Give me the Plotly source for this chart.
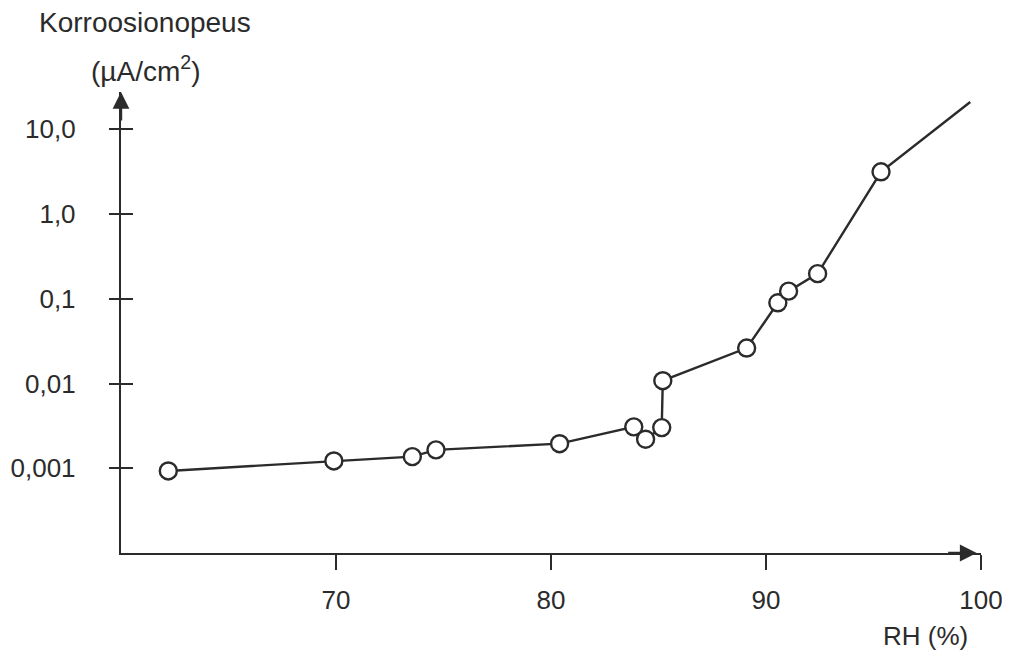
import plotly.graph_objects as go

# Measured points (RH %, corrosion rate µA/cm²)
rh = [62.2, 69.9, 73.55, 74.65, 80.4, 83.85, 84.4, 85.15, 85.2, 89.1, 90.55, 91.05, 92.4, 95.35]
rate = [0.00093, 0.00122, 0.00137, 0.00165, 0.00195, 0.00308, 0.0022, 0.00302, 0.0108, 0.0262, 0.0897, 0.123, 0.198, 3.15]
# Extension of the curve beyond the last point (no marker)
rh_end = [99.5]
rate_end = [21.0]

x_ticks = [70, 80, 90, 100]
x_tick_text = ["70", "80", "90", "100"]
y_ticks = [0.001, 0.01, 0.1, 1, 10]
y_tick_text = ["0,001", "0,01", "0,1", "1,0", "10,0"]

ink = "#2b2b2b"
font = "Liberation Sans, Arial, sans-serif"
fs = 26
fs_title = 28

fig = go.Figure()
fig.add_trace(go.Scatter(x=rh + rh_end, y=rate + rate_end, mode="lines",
                         line=dict(color=ink, width=2.4), hoverinfo="skip", showlegend=False))
fig.add_trace(go.Scatter(x=rh, y=rate, mode="markers", yaxis="y2",
                         marker=dict(symbol="circle", size=17, color="white",
                                     line=dict(color=ink, width=2.4)),
                         showlegend=False))

yr = [-4.0, 1.44]
fig.update_layout(
    width=1002, height=649,
    margin=dict(l=113, r=29, t=84, b=104, autoexpand=False),
    paper_bgcolor="white", plot_bgcolor="white",
    font=dict(family=font, color=ink, size=fs),
    xaxis=dict(range=[60, 100], tickvals=x_ticks, ticktext=x_tick_text, automargin=False,
               showgrid=False, zeroline=False, showline=True, linecolor=ink, linewidth=2.4,
               ticks="outside", ticklen=15, tickwidth=2, tickcolor=ink,
               ticklabeloverflow="allow", ticklabelstandoff=8, tickfont=dict(size=fs)),
    yaxis=dict(type="log", range=yr, tickvals=y_ticks, ticktext=y_tick_text, automargin=False,
               showgrid=False, zeroline=False, showline=True, linecolor=ink, linewidth=2.4,
               ticks="outside", ticklen=10, tickwidth=2, tickcolor=ink,
               ticklabeloverflow="allow", ticklabelstandoff=28, tickfont=dict(size=fs)),
    yaxis2=dict(type="log", range=yr, overlaying="y", tickvals=y_ticks, showticklabels=False,
                automargin=False, showgrid=False, zeroline=False, showline=False,
                ticks="inside", ticklen=12, tickwidth=2, tickcolor=ink),
    annotations=[
        dict(text="Korroosionopeus", xref="paper", yref="paper", x=0.028, y=1, yshift=70,
             showarrow=False, font=dict(size=fs_title), xanchor="center", yanchor="middle"),
        dict(text="(µA/cm<sup>2</sup>)", xref="paper", yref="paper", x=0.028, y=1, yshift=23,
             showarrow=False, font=dict(size=fs_title), xanchor="center", yanchor="middle"),
        dict(text="RH (%)", xref="paper", yref="paper", x=0.935, y=0, yshift=-83,
             showarrow=False, font=dict(size=fs), xanchor="center", yanchor="middle"),
        # y-axis arrowhead
        dict(x=0, y=1, xref="paper", yref="paper", ax=0, ay=30, axref="pixel", ayref="pixel",
             text="", showarrow=True, arrowhead=2, arrowsize=1.4, arrowwidth=2.4, arrowcolor=ink),
        # x-axis arrowhead
        dict(x=0.995, y=0, xref="paper", yref="paper", ax=-30, ay=0, axref="pixel", ayref="pixel",
             text="", showarrow=True, arrowhead=2, arrowsize=1.4, arrowwidth=2.4, arrowcolor=ink),
    ],
)

fig.write_html("out.html")
